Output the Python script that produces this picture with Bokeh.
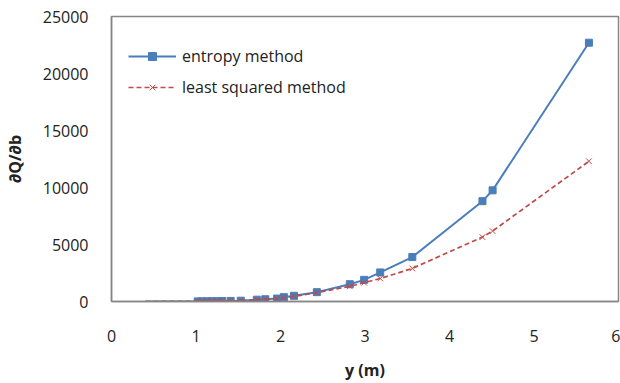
from bokeh.plotting import figure
from bokeh.models import ColumnDataSource, FixedTicker, Range1d, Legend, LegendItem
from bokeh.embed import file_html
from bokeh.resources import INLINE

# data
y_m = [0.4, 1.02, 1.07, 1.13, 1.19, 1.25, 1.31, 1.41, 1.53, 1.72, 1.82, 1.96, 2.04, 2.16,
       2.43, 2.82, 2.99, 3.18, 3.56, 4.39, 4.51, 5.65]
entropy = [0, 10, 15, 20, 25, 30, 40, 50, 70, 160, 200, 260, 380, 500,
           820, 1520, 1900, 2550, 3900, 8800, 9750, 22700]
least_sq = [0, 10, 15, 20, 25, 30, 40, 50, 70, 150, 190, 240, 330, 450,
            780, 1330, 1650, 2020, 2900, 5650, 6180, 12300]
has_marker = [False] + [True] * (len(y_m) - 1)
x_ticks = [0, 1, 2, 3, 4, 5, 6]
y_ticks = [0, 5000, 10000, 15000, 20000, 25000]

BLUE = "#4A7EBB"
RED = "#BE4B48"
FONT = "Open Sans"

line_src = ColumnDataSource(dict(x=y_m, e=entropy, l=least_sq))
mk_x = [x for x, m in zip(y_m, has_marker) if m]
mk_e = [v for v, m in zip(entropy, has_marker) if m]
mk_l = [v for v, m in zip(least_sq, has_marker) if m]
mk_src = ColumnDataSource(dict(x=mk_x, e=mk_e, l=mk_l))

p = figure(width=620, height=383, output_backend="svg", toolbar_location=None,
           x_range=Range1d(0, 6), y_range=Range1d(0, 25000),
           min_border_left=107, min_border_right=2, min_border_top=16, min_border_bottom=81)
p.background_fill_color = "white"
p.border_fill_color = "white"
p.outline_line_color = "#868686"
p.outline_line_width = 1.5
p.xgrid.visible = False
p.ygrid.visible = False

for ax in (p.xaxis[0], p.yaxis[0]):
    ax.axis_line_color = "#868686"
    ax.axis_line_width = 1.5
    ax.major_tick_line_color = None
    ax.minor_tick_line_color = None
    ax.major_label_text_font = FONT
    ax.major_label_text_font_size = "16px"
    ax.major_label_text_color = "#222222"
    ax.axis_label_text_font = FONT
    ax.axis_label_text_font_size = "16px"
    ax.axis_label_text_font_style = "bold"
    ax.axis_label_text_color = "#222222"

p.xaxis.ticker = FixedTicker(ticks=x_ticks)
p.yaxis.ticker = FixedTicker(ticks=y_ticks)
p.xaxis.axis_label = "y (m)"
p.yaxis.axis_label = "∂Q/∂b"
p.xaxis.major_label_standoff = 22
p.xaxis.axis_label_standoff = 14
p.yaxis.major_label_standoff = 17
p.yaxis.axis_label_standoff = 14

l1 = p.line("x", "e", source=line_src, line_color=BLUE, line_width=2)
s1 = p.scatter("x", "e", source=mk_src, marker="square", size=7,
               fill_color=BLUE, line_color=BLUE)
l2 = p.line("x", "l", source=line_src, line_color=RED, line_width=1.7, line_dash="5 3")
s2 = p.scatter("x", "l", source=mk_src, marker="x", size=8,
               line_color=RED, line_width=1)

legend = Legend(items=[LegendItem(label="entropy method", renderers=[l1, s1]),
                       LegendItem(label="least squared method", renderers=[l2, s2])],
                location=(17, 203))
legend.border_line_color = None
legend.background_fill_alpha = 0
legend.padding = 0
legend.margin = 0
legend.spacing = 9
legend.glyph_width = 48
legend.label_standoff = 6
legend.label_text_font = FONT
legend.label_text_font_size = "16px"
legend.label_text_color = "#222222"
p.add_layout(legend, "center")

open("out.html", "w").write(file_html(p, INLINE))
